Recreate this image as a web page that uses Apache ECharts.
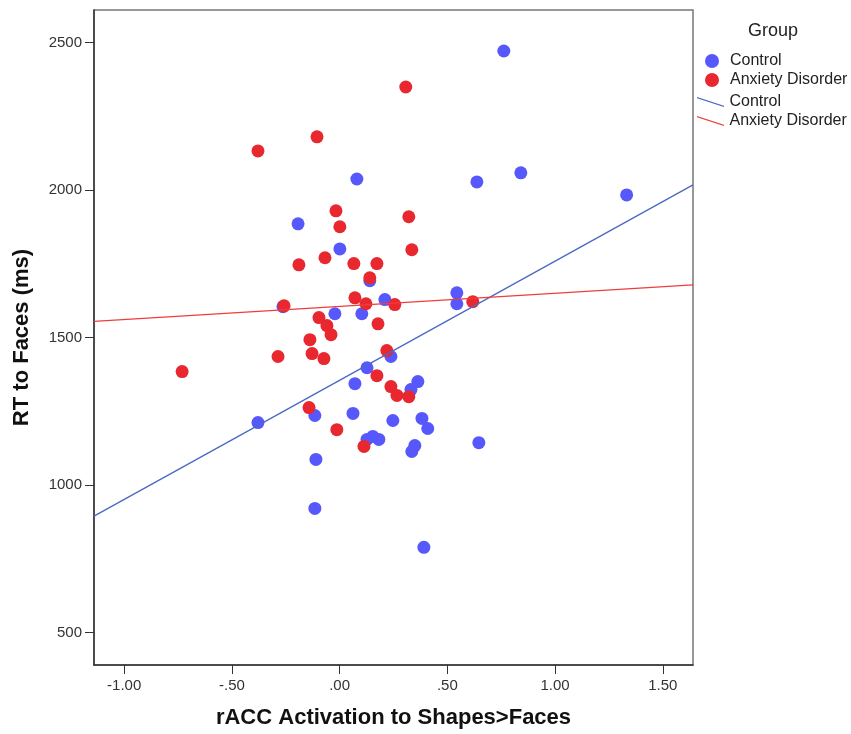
<!DOCTYPE html>
<html lang="en">
  <head>
    <meta charset="UTF-8" />
    <title>RT to Faces vs rACC Activation</title>
    <script src="https://cdn.jsdelivr.net/npm/echarts@6/dist/echarts.min.js"></script>
    <style>
      html, body { margin: 0; padding: 0; background: #fff; }
      #chart { width: 851px; height: 734px; }
    </style>
  </head>
  <body>
    <div id="chart"></div>
    <script>
      // rACC activation (x) and RT in ms (y)
      var controlPts = [
        [0.762, 2472], [0.080, 2038], [0.637, 2028], [0.841, 2059], [1.332, 1984],
        [-0.193, 1886], [0.001, 1801], [0.544, 1652], [0.544, 1615], [0.210, 1629],
        [-0.022, 1581], [0.103, 1581], [-0.263, 1605], [0.140, 1693], [-0.379, 1212],
        [0.071, 1344], [-0.115, 1236], [0.062, 1243], [-0.110, 1087], [0.127, 1398],
        [0.238, 1436], [0.363, 1351], [0.331, 1324], [0.247, 1219], [0.382, 1226],
        [0.409, 1192], [0.127, 1155], [0.154, 1165], [0.182, 1155], [0.349, 1134],
        [0.335, 1114], [0.646, 1144], [-0.115, 921], [0.391, 789]
      ];
      var anxietyPts = [
        [0.307, 2350], [-0.105, 2181], [-0.379, 2133], [-0.017, 1930], [0.001, 1876],
        [0.321, 1910], [0.335, 1798], [-0.189, 1747], [-0.068, 1771], [0.066, 1751],
        [0.173, 1751], [0.140, 1703], [0.071, 1635], [0.122, 1615], [0.256, 1612],
        [0.618, 1622], [0.178, 1547], [-0.258, 1608], [-0.096, 1568], [-0.059, 1541],
        [-0.040, 1510], [-0.138, 1493], [-0.128, 1446], [-0.073, 1429], [-0.286, 1436],
        [-0.731, 1385], [-0.142, 1263], [-0.013, 1188], [0.113, 1131], [0.219, 1456],
        [0.173, 1371], [0.238, 1334], [0.266, 1304], [0.321, 1300]
      ];
      // fit line end points (at the plot edges)
      var controlFit = [[-1.14, 895], [1.64, 2018]];
      var anxietyFit = [[-1.14, 1555], [1.64, 1679]];

      var xTicks = [-1, -0.5, 0, 0.5, 1, 1.5];
      var yTicks = [500, 1000, 1500, 2000, 2500];

      var blue = '#5758fb';
      var red = '#e9272f';

      function fmtX(v) {
        var s = Math.abs(v).toFixed(2);
        if (s.charAt(0) === '0') s = s.slice(1);
        return (v < 0 ? '-' : '') + s;
      }

      var myChart = echarts.init(document.getElementById('chart'));
      var option = {
        animation: false,
        textStyle: { fontFamily: 'Liberation Sans, Arial, sans-serif' },
        title: {
          text: 'Group',
          left: 743,
          top: 17,
          textStyle: { fontSize: 18, fontWeight: 'normal', color: '#222' }
        },
        legend: [
          {
            orient: 'vertical',
            left: 700,
            top: 48,
            itemWidth: 14,
            itemHeight: 14,
            itemGap: 3,
            icon: 'circle',
            data: ['Control', 'Anxiety Disorder'],
            textStyle: { fontSize: 16, color: '#222', padding: [0, 0, 0, 6] }
          },
          {
            orient: 'vertical',
            left: 692,
            top: 89,
            itemWidth: 28,
            itemHeight: 10,
            itemGap: 3,
            icon: 'path://M0,0 L28,9 L28,10.4 L0,1.4 Z',
            data: ['Control fit', 'Anxiety Disorder fit'],
            formatter: function (name) { return name.replace(' fit', ''); },
            textStyle: { fontSize: 16, color: '#222' }
          }
        ],
        grid: {
          left: 94,
          right: 158,
          top: 10,
          bottom: 68,
          show: true,
          borderColor: '#777',
          borderWidth: 1.5
        },
        xAxis: {
          type: 'value',
          min: -1.14,
          max: 1.64,
          name: 'rACC Activation to Shapes>Faces',
          nameLocation: 'middle',
          nameGap: 42,
          nameTextStyle: { fontSize: 22, fontWeight: 'bold', color: '#111' },
          axisLine: { onZero: false, lineStyle: { color: '#333', width: 1.5 } },
          axisTick: { length: 9, customValues: xTicks, lineStyle: { color: '#333' } },
          axisLabel: { customValues: xTicks, formatter: fmtX, margin: 13, fontSize: 15, color: '#333' },
          splitLine: { show: false }
        },
        yAxis: {
          type: 'value',
          min: 390,
          max: 2611,
          name: 'RT to Faces (ms)',
          nameLocation: 'middle',
          nameGap: 61,
          nameTextStyle: { fontSize: 22, fontWeight: 'bold', color: '#111' },
          axisLine: { show: true, onZero: false, lineStyle: { color: '#333', width: 1.5 } },
          axisTick: { show: true, length: 9, customValues: yTicks, lineStyle: { color: '#333' } },
          axisLabel: {
            customValues: yTicks,
            formatter: function (v) { return String(v); },
            margin: 12,
            fontSize: 15,
            color: '#333'
          },
          splitLine: { show: false }
        },
        series: [
          {
            name: 'Control',
            type: 'scatter',
            symbolSize: 13,
            itemStyle: { color: blue, opacity: 1 },
            data: controlPts
          },
          {
            name: 'Anxiety Disorder',
            type: 'scatter',
            symbolSize: 13,
            itemStyle: { color: red, opacity: 1 },
            data: anxietyPts
          },
          {
            name: 'Control fit',
            type: 'line',
            showSymbol: false,
            symbol: 'none',
            lineStyle: { color: '#4a68c4', width: 1.3 },
            itemStyle: { color: '#4a68c4' },
            data: controlFit
          },
          {
            name: 'Anxiety Disorder fit',
            type: 'line',
            showSymbol: false,
            symbol: 'none',
            lineStyle: { color: '#f03c3c', width: 1.3 },
            itemStyle: { color: '#f03c3c' },
            data: anxietyFit
          }
        ]
      };
      myChart.setOption(option);
    </script>
  </body>
</html>
